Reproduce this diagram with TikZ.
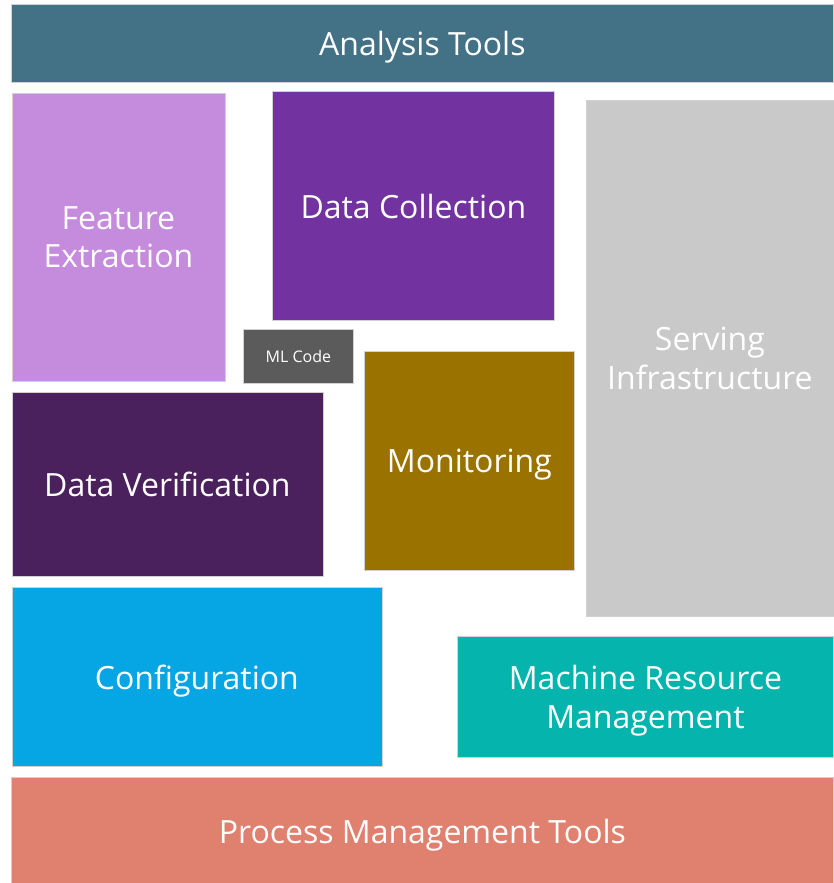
\documentclass[tikz,border=0pt]{standalone}
\usepackage{fontspec}
\setmainfont{Open Sans}
\usetikzlibrary{positioning}
\definecolor{analysiscol}{HTML}{437287}
\definecolor{featurecol}{HTML}{C58BDD}
\definecolor{collectcol}{HTML}{7233A1}
\definecolor{mlcol}{HTML}{5B5B5B}
\definecolor{monitorcol}{HTML}{997200}
\definecolor{verifycol}{HTML}{4B215D}
\definecolor{configcol}{HTML}{06A5E3}
\definecolor{servingcol}{HTML}{C9C9C9}
\definecolor{resourcecol}{HTML}{05B5AD}
\definecolor{processcol}{HTML}{E0806E}
\tikzset{
	block/.style={draw=black!18, line width=0.8pt, text=white, align=center, anchor=north west, inner sep=0pt, text depth=0pt, font=\fontsize{32}{38.5}\selectfont},
	smallblock/.style={block, font=\fontsize{16}{19}\selectfont},
	blocksize/.style 2 args={minimum width=#1pt, minimum height=#2pt}
}

\begin{document}
\begin{tikzpicture}[x=1pt, y=-1pt]
		%%%%% START %%%%%
		
		\useasboundingbox (0, 0) rectangle (833, 883);
		
		\node[block, fill=analysiscol, blocksize={822}{77}] (analysis) at (11, 4.5) {Analysis Tools};
		
		\node[block, fill=featurecol, blocksize={213}{288}] (feature) at (11.5, 92.5) {Feature\\Extraction};
		\node[block, fill=collectcol, blocksize={282}{229}] (collection) at (272, 91) {Data Collection};
		\node[block, fill=servingcol, blocksize={248}{516}] (serving) at (585.5, 100) {Serving\\Infrastructure};
		
		\node[smallblock, fill=mlcol, blocksize={110}{54}] (mlcode) at (243, 329) {ML Code};
		\node[block, fill=monitorcol, blocksize={210}{219}] (monitoring) at (364, 351) {Monitoring};
		\node[block, fill=verifycol, blocksize={311}{184}] (verification) at (11.5, 392) {Data Verification};
		
		\node[block, fill=configcol, blocksize={370}{179}] (configuration) at (11.5, 587) {Configuration};
		\node[block, fill=resourcecol, blocksize={376}{121}] (resource) at (457, 636) {Machine Resource\\Management};
		
		\node[block, fill=processcol, blocksize={822}{108}] (process) at (11, 776.5) {Process Management Tools};
		
		%%%%% END %%%%%
	\end{tikzpicture}
\end{document}
